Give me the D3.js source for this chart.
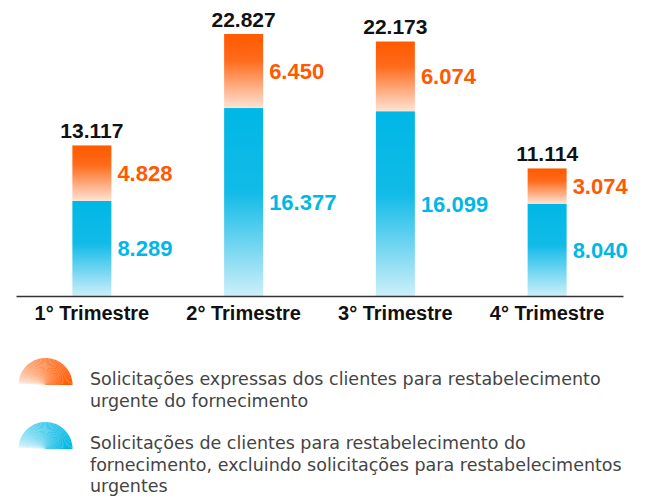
<!DOCTYPE html>
<html>
<head>
<meta charset="utf-8">
<script src="https://cdn.jsdelivr.net/npm/d3@7"></script>
<style>
  body { margin: 0; background: #fff; }
  .num { font-family: "Liberation Sans", Arial, sans-serif; font-weight: bold; }
  .legend-text { font-family: "DejaVu Sans", sans-serif; font-size: 17.5px; fill: #444; }
</style>
</head>
<body>
<svg id="chart" width="649" height="500"></svg>
<script>
// dados por trimestre
let trimestres = ['1° Trimestre', '2° Trimestre', '3° Trimestre', '4° Trimestre'];
let expressas = [4828, 6450, 6074, 3074];
let normais = [8289, 16377, 16099, 8040];
let totais = [13117, 22827, 22173, 11114];
let legendas = [
  ['Solicitações expressas dos clientes para restabelecimento', 'urgente do fornecimento'],
  ['Solicitações de clientes para restabelecimento do', 'fornecimento, excluindo solicitações para restabelecimentos', 'urgentes']
];

let laranja = '#ff5a00';
let azul = '#00b7e5';

let svg = d3.select('#chart');
let br = d3.formatLocale({decimal: ',', thousands: '.', grouping: [3], currency: ['R$', '']});
let fmt = br.format(',d');

let x = d3.scaleBand().domain(trimestres).range([16, 623]).padding(0);
let y = d3.scaleLinear().domain([0, d3.max(totais)]).range([296, 34]);
let barW = 39;

let rows = trimestres.map((t, i) => ({trimestre: t, normal: normais[i], expressa: expressas[i], total: totais[i]}));
let series = d3.stack().keys(['normal', 'expressa'])(rows);

// gradientes
let defs = svg.append('defs');
let gAzul = defs.append('linearGradient').attr('id', 'gradAzul')
  .attr('x1', 0).attr('y1', 0).attr('x2', 0).attr('y2', 1);
gAzul.append('stop').attr('offset', '0%').attr('stop-color', azul);
gAzul.append('stop').attr('offset', '45%').attr('stop-color', '#12bbe8');
gAzul.append('stop').attr('offset', '100%').attr('stop-color', '#cdeff9');

let gLar = defs.append('linearGradient').attr('id', 'gradLaranja')
  .attr('x1', 0).attr('y1', 0).attr('x2', 0).attr('y2', 1);
gLar.append('stop').attr('offset', '0%').attr('stop-color', laranja);
gLar.append('stop').attr('offset', '35%').attr('stop-color', '#ff6a1a');
gLar.append('stop').attr('offset', '100%').attr('stop-color', '#ffe3d4');

let fills = {normal: 'url(#gradAzul)', expressa: 'url(#gradLaranja)'};
let textColors = {normal: azul, expressa: laranja};

let groups = svg.selectAll('g.serie')
  .data(series)
  .enter()
  .append('g')
  .attr('class', 'serie');

groups.selectAll('rect')
  .data(s => s.map(d => Object.assign(d, {key: s.key})))
  .enter()
  .append('rect')
  .attr('x', d => x(d.data.trimestre) + (x.bandwidth() - barW) / 2)
  .attr('y', d => y(d[1]))
  .attr('width', barW)
  .attr('height', d => y(d[0]) - y(d[1]))
  .attr('fill', d => fills[d.key]);

groups.selectAll('text')
  .data(s => s)
  .enter()
  .append('text')
  .attr('class', 'num')
  .attr('x', d => x(d.data.trimestre) + (x.bandwidth() + barW) / 2 + 6)
  .attr('y', d => (y(d[0]) + y(d[1])) / 2)
  .attr('dy', '0.36em')
  .attr('font-size', 22)
  .attr('fill', d => textColors[d.key])
  .text(d => fmt(d[1] - d[0]));

// totais
svg.selectAll('text.total')
  .data(rows)
  .enter()
  .append('text')
  .attr('class', 'num total')
  .attr('x', d => x(d.trimestre) + x.bandwidth() / 2)
  .attr('y', d => y(d.total) - 7.5)
  .attr('text-anchor', 'middle')
  .attr('font-size', 21)
  .attr('fill', '#111')
  .text(d => fmt(d.total));

// eixo
let axis = svg.append('g')
  .attr('transform', 'translate(0,296)')
  .call(d3.axisBottom(x).tickSize(0).tickPadding(10));
axis.select('.domain').attr('stroke', '#333').attr('stroke-width', 1.5);
axis.selectAll('text')
  .attr('class', 'num')
  .attr('font-size', 20)
  .attr('fill', '#111');

// legenda
let legendColors = [laranja, azul];
let legendY = [385, 449];
let arc = d3.arc().innerRadius(0).outerRadius(27);
let nW = 60;

legendas.forEach((linhas, k) => {
  let g = svg.append('g').attr('transform', 'translate(45.5,' + legendY[k] + ')');
  let interp = d3.interpolateRgb('#ffffff', legendColors[k]);
  d3.range(nW).forEach(i => {
    let a0 = -Math.PI / 2 + i * Math.PI / nW;
    let a1 = a0 + Math.PI / nW + 0.01;
    let c = interp(Math.pow(i / (nW - 1), 0.5));
    g.append('path')
      .attr('d', arc({startAngle: a0, endAngle: Math.min(a1, Math.PI / 2)}))
      .attr('fill', c);
  });
  let t = svg.append('text')
    .attr('class', 'legend-text')
    .attr('x', 90)
    .attr('y', legendY[k]);
  t.selectAll('tspan')
    .data(linhas)
    .enter()
    .append('tspan')
    .attr('x', 90)
    .attr('dy', (d, i) => i === 0 ? 0 : 21.5)
    .text(d => d);
});
</script>
</body>
</html>
